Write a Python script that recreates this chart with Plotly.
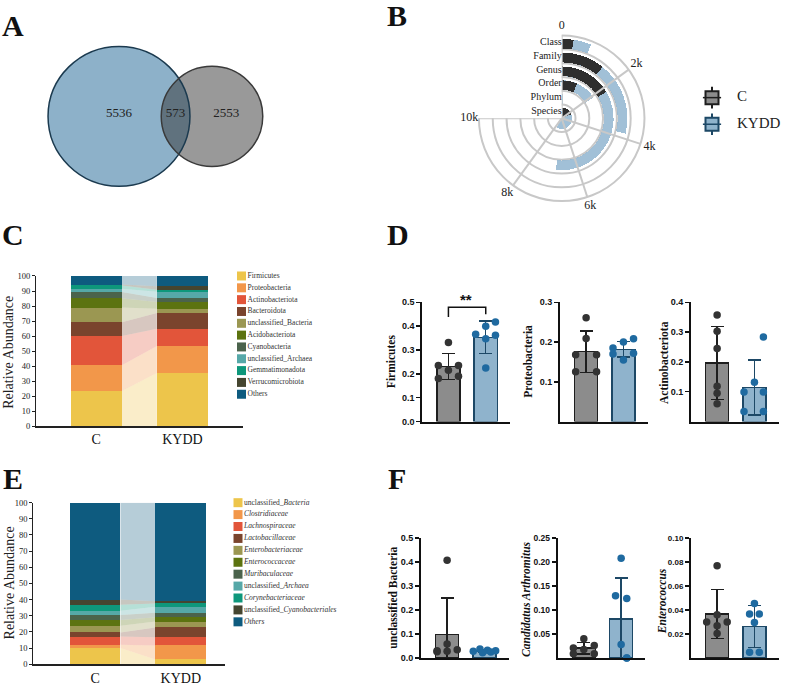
import numpy as np
import plotly.graph_objects as go

W, H = 789, 686

# ---------------- data ----------------
# Panel A (Venn)
venn_kydd_only = 5536
venn_shared = 573
venn_c_only = 2553

# Panel B (radial bars, inner -> outer ring)
tax_levels = ["Species", "Phylum", "Order", "Genus", "Family", "Class"]
tax_counts_c = [2500, 40, 890, 2200, 1430, 320]
tax_counts_kydd = [7700, 150, 2100, 6900, 3830, 800]
angular_tickvals = [0, 2000, 4000, 6000, 8000, 10000]
angular_ticktext = ["0", "2k", "4k", "6k", "8k", "10k"]
angular_max = 10000

groups = ["C", "KYDD"]

# Panel C (phylum composition, %)
phyla = ["Firmicutes", "Proteobacteria", "Actinobacteriota", "Bacteroidota",
         "unclassified_Bacteria", "Acidobacteriota", "Cyanobacteria",
         "unclassified_Archaea", "Gemmatimonadota", "Verrucomicrobiota", "Others"]
phyla_c = [23.4, 17.1, 19.5, 9.1, 9.9, 6.1, 4.2, 2.2, 2.2, 0.6, 5.7]
phyla_kydd = [35.4, 18.0, 11.4, 10.5, 2.8, 4.6, 2.6, 4.2, 1.3, 2.4, 6.8]

# Panel E (family composition, %)
families = ["unclassified_<i>Bacteria</i>", "<i>Clostridiaceae</i>", "<i>Lachnospiraceae</i>",
            "<i>Lactobacillaceae</i>", "<i>Enterobacteriaceae</i>", "<i>Enterococcaceae</i>",
            "<i>Muribaculaceae</i>", "unclassified_<i>Archaea</i>", "<i>Corynebacteriaceae</i>",
            "unclassified_<i>Cyanobacteriales</i>", "<i>Others</i>"]
family_c = [10.0, 2.0, 5.1, 2.6, 4.1, 3.6, 3.1, 2.6, 3.7, 3.2, 60.0]
family_kydd = [3.0, 8.6, 5.1, 6.1, 3.6, 2.7, 2.8, 3.7, 2.0, 1.4, 61.0]

composition_ticks = list(range(0, 101, 10))

# Panel D (per-sample relative abundance)
firmicutes_c = [0.331, 0.235, 0.235, 0.215, 0.180, 0.190]
firmicutes_kydd = [0.417, 0.400, 0.366, 0.362, 0.347, 0.225]
proteobacteria_c = [0.261, 0.209, 0.168, 0.168, 0.125, 0.125]
proteobacteria_kydd = [0.208, 0.200, 0.185, 0.172, 0.170, 0.155]
actinobacteriota_c = [0.357, 0.303, 0.245, 0.118, 0.095, 0.060]
actinobacteriota_kydd = [0.284, 0.1315, 0.099, 0.099, 0.034, 0.034]

# Panel F
uncl_bacteria_c = [0.408, 0.058, 0.035, 0.030, 0.028, 0.026]
uncl_bacteria_kydd = [0.038, 0.032, 0.030, 0.028, 0.025, 0.022]
arthromitus_c = [0.040, 0.026, 0.0207, 0.018, 0.009, 0.009]
arthromitus_kydd = [0.208, 0.130, 0.124, 0.028, 0.0, 0.0]
enterococcus_c = [0.077, 0.036, 0.030, 0.030, 0.027, 0.0205]
enterococcus_kydd = [0.0455, 0.0367, 0.0367, 0.0296, 0.0049, 0.0049]

# ---------------- styles ----------------
palette = ["#EDC54B", "#F2974A", "#E2553A", "#7A442D", "#9B9752", "#5C7310",
           "#4B634C", "#56A8A8", "#0E977B", "#454530", "#0E5B7F"]
gray_fill, gray_line, gray_dot = "#8c8c8c", "#1e1e1e", "#333333"
blue_fill, blue_line, blue_dot = "#8fb3cc", "#1d4866", "#1f6aa0"
grid_gray = "#c8c8c8"
SERIF = "Liberation Serif"
SANS = "Liberation Sans"

fig = go.Figure()
layout = dict(width=W, height=H, margin=dict(l=0, r=0, t=0, b=0),
              paper_bgcolor="white", plot_bgcolor="rgba(0,0,0,0)",
              showlegend=False, barmode="stack",
              font=dict(family=SERIF, color="#222"))
shapes, annotations = [], []


def dom_x(a, b):
    return [a / W, b / W]


def dom_y(top, bottom):
    return [1 - bottom / H, 1 - top / H]


def set_axes(n, xd, yd, xr, yr, xextra=None, yextra=None):
    base = dict(showgrid=False, zeroline=False, showticklabels=False, ticks="",
                showline=False, fixedrange=True)
    xa = dict(base, domain=xd, range=xr, anchor="y%d" % n if n > 1 else "y")
    ya = dict(base, domain=yd, range=yr, anchor="x%d" % n if n > 1 else "x")
    if xextra:
        xa.update(xextra)
    if yextra:
        ya.update(yextra)
    key = "" if n == 1 else str(n)
    layout["xaxis" + key] = xa
    layout["yaxis" + key] = ya
    return ("x" if n == 1 else "x%d" % n), ("y" if n == 1 else "y%d" % n)


def rgba(hexc, a):
    h = hexc.lstrip("#")
    return "rgba(%d,%d,%d,%.2f)" % (int(h[0:2], 16), int(h[2:4], 16), int(h[4:6], 16), a)


def paper_text(text, px, py, size, family=SERIF, angle=0, color="#222"):
    annotations.append(dict(text=text, x=px / W, y=1 - py / H, xref="paper", yref="paper",
                            xanchor="center", yanchor="middle", textangle=angle,
                            showarrow=False, font=dict(size=size, family=family, color=color)))


# ---------------- Panel A: Venn ----------------
xa, ya = set_axes(1, dom_x(0, 300), dom_y(20, 200), [0, 300], [-87, 93])
venn_scale = 0.908
r_k = venn_scale * np.sqrt(venn_kydd_only + venn_shared)
r_c = venn_scale * np.sqrt(venn_c_only + venn_shared)
cx_k = 119
cx_c = cx_k + 93
shapes += [
    dict(type="circle", xref=xa, yref=ya, x0=cx_k - r_k, x1=cx_k + r_k, y0=-r_k, y1=r_k,
         fillcolor="#8db1c9", line=dict(width=0), layer="below"),
    dict(type="circle", xref=xa, yref=ya, x0=cx_c - r_c, x1=cx_c + r_c, y0=-r_c, y1=r_c,
         fillcolor="rgba(51,51,51,0.5)", line=dict(width=0), layer="below"),
    dict(type="circle", xref=xa, yref=ya, x0=cx_k - r_k, x1=cx_k + r_k, y0=-r_k, y1=r_k,
         fillcolor="rgba(0,0,0,0)", line=dict(width=1.5, color="#1b3a4f"), layer="below"),
    dict(type="circle", xref=xa, yref=ya, x0=cx_c - r_c, x1=cx_c + r_c, y0=-r_c, y1=r_c,
         fillcolor="rgba(0,0,0,0)", line=dict(width=1.5, color="#3a3a3a"), layer="below"),
]
fig.add_trace(go.Scatter(
    x=[cx_k, (cx_c - r_c + cx_k + r_k) / 2, (cx_k + r_k + cx_c + r_c) / 2], y=[3, 3, 3],
    mode="text", text=[str(venn_kydd_only), str(venn_shared), str(venn_c_only)],
    textfont=dict(size=13, color="#222", family=SERIF), xaxis=xa, yaxis=ya, hoverinfo="skip"))

# ---------------- Panel B: radial bars ----------------
deg = 270.0 / angular_max
n_rings = len(tax_levels)
r_max = n_rings + 1.0          # extra room for angular labels
ring_px = 14.0
R_px = r_max * ring_px
cxp, cyp = 561.7, 115.0
for t in angular_tickvals:
    fig.add_trace(go.Scatterpolar(r=[0, n_rings], theta=[t * deg, t * deg], mode="lines",
                                  line=dict(color=grid_gray, width=2), subplot="polar",
                                  hoverinfo="skip"))
ring_base = [i + 0.06 for i in range(n_rings)]
for vals, col, op in [(tax_counts_kydd, "#8db3cf", 0.82), (tax_counts_c, "#2e2e2e", 1.0)]:
    fig.add_trace(go.Barpolar(
        r=[0.7] * len(vals), base=ring_base,
        theta=[v * deg / 2 for v in vals], width=[v * deg for v in vals],
        marker=dict(color=col, line=dict(width=0)), opacity=op, subplot="polar",
        hoverinfo="skip"))
fig.add_trace(go.Scatterpolar(
    r=[i + 0.5 for i in range(n_rings)], theta=[0] * n_rings,
    mode="text", text=tax_levels, textposition="middle left", cliponaxis=False,
    textfont=dict(size=10, color="#222", family=SERIF), subplot="polar", hoverinfo="skip"))
fig.add_trace(go.Scatterpolar(
    r=[n_rings + 0.7] * len(angular_tickvals), theta=[t * deg for t in angular_tickvals],
    mode="text", text=angular_ticktext, cliponaxis=False,
    textfont=dict(size=12, color="#222", family=SERIF), subplot="polar", hoverinfo="skip"))
layout["polar"] = dict(
    domain=dict(x=dom_x(cxp - R_px, cxp + R_px), y=dom_y(cyp - R_px, cyp + R_px)),
    sector=[180, 450], bgcolor="rgba(0,0,0,0)", hole=0,
    angularaxis=dict(direction="clockwise", rotation=90, thetaunit="degrees", type="linear",
                     showticklabels=False, showline=False, showgrid=False, ticks=""),
    radialaxis=dict(range=[0, r_max], tickmode="array",
                    tickvals=list(range(1, n_rings + 1)),
                    showticklabels=False, ticks="", showline=False,
                    showgrid=True, gridcolor=grid_gray, gridwidth=2))

# legend for B
xb, yb = set_axes(2, dom_x(700, 789), dom_y(80.5, 134.5), [700, 789], [1.5, -0.5])
for i, (g, fc, lc) in enumerate([(groups[0], gray_fill, gray_line), (groups[1], blue_fill, blue_line)]):
    fig.add_trace(go.Scatter(x=[712, 712], y=[i - 0.3, i + 0.3], mode="markers",
                             marker=dict(symbol="line-ns", size=4, line=dict(width=2, color=lc)),
                             xaxis=xb, yaxis=yb, hoverinfo="skip", cliponaxis=False))
    fig.add_trace(go.Scatter(x=[712], y=[i], mode="markers",
                             marker=dict(symbol="square", size=13, color=fc, line=dict(width=2, color=lc)),
                             xaxis=xb, yaxis=yb, hoverinfo="skip", cliponaxis=False))
    fig.add_trace(go.Scatter(x=[712], y=[i], mode="markers",
                             marker=dict(symbol="line-ew", size=13, line=dict(width=1.5, color=lc)),
                             xaxis=xb, yaxis=yb, hoverinfo="skip", cliponaxis=False))
    fig.add_trace(go.Scatter(x=[737], y=[i], mode="text", text=[g], textposition="middle right",
                             textfont=dict(size=15, family=SERIF, color="#222"),
                             xaxis=xb, yaxis=yb, hoverinfo="skip", cliponaxis=False))


# ---------------- Panels C / E: stacked composition ----------------
def composition_panel(n_axes, n_leg, xdom, ydom, xrange, names, vals_c, vals_k,
                      leg_xdom, leg_ydom, leg_sq_x, leg_txt_x):
    xs, ys = set_axes(
        n_axes, dom_x(*xdom), dom_y(*ydom), xrange, [0, 100],
        xextra=dict(showline=True, linecolor="#222", linewidth=1.5, showticklabels=True,
                    tickmode="array", tickvals=[0, 1], ticktext=groups,
                    tickfont=dict(size=14, family=SERIF, color="#111")),
        yextra=dict(showline=True, linecolor="#222", linewidth=1, ticks="outside", ticklen=3,
                    tickwidth=1, tickcolor="#222", showticklabels=True, tickmode="array",
                    tickvals=composition_ticks, tickfont=dict(size=8.5, family=SERIF, color="#222")))
    bw = 0.593
    cum_c = np.concatenate([[0], np.cumsum(vals_c)])
    cum_k = np.concatenate([[0], np.cumsum(vals_k)])
    for i, nm in enumerate(names):
        fig.add_trace(go.Bar(x=[0, 1], y=[vals_c[i], vals_k[i]], width=bw,
                             marker=dict(color=palette[i], line=dict(width=0)),
                             xaxis=xs, yaxis=ys, hoverinfo="skip"))
        fig.add_trace(go.Scatter(
            x=[bw / 2, 1 - bw / 2, 1 - bw / 2, bw / 2, bw / 2],
            y=[cum_c[i], cum_k[i], cum_k[i + 1], cum_c[i + 1], cum_c[i]],
            mode="lines", fill="toself", fillcolor=rgba(palette[i], 0.3),
            line=dict(width=0), xaxis=xs, yaxis=ys, hoverinfo="skip"))
    # legend
    xl, yl = set_axes(n_leg, dom_x(*leg_xdom), dom_y(*leg_ydom), list(leg_xdom),
                      [len(names) - 0.5, -0.5])
    idx = list(range(len(names)))
    fig.add_trace(go.Scatter(x=[leg_sq_x] * len(names), y=idx, mode="markers",
                             marker=dict(symbol="square", size=9, color=palette[:len(names)],
                                         line=dict(width=0)),
                             xaxis=xl, yaxis=yl, hoverinfo="skip", cliponaxis=False))
    fig.add_trace(go.Scatter(x=[leg_txt_x] * len(names), y=idx, mode="text", text=names,
                             textposition="middle right",
                             textfont=dict(size=7.5, family=SERIF, color="#333"),
                             xaxis=xl, yaxis=yl, hoverinfo="skip", cliponaxis=False))


composition_panel(3, 4, (36, 242.7), (275, 427.3), [-0.70, 1.70], phyla, phyla_c, phyla_kydd,
                  (230, 400), (269, 401), 241.5, 247.5)
composition_panel(5, 6, (33.3, 225), (505, 669), [-0.72, 1.515], families, family_c, family_kydd,
                  (230, 400), (499, 632), 238, 244)

paper_text("Relative Abundance", 9, 353, 14, angle=-90)
paper_text("Relative Abundance", 9, 587, 14, angle=-90)

# ---------------- Panels D / F: bar + dot plots ----------------
dot_offsets = {
    "firm_c": [0, -0.27, 0.27, 0, -0.27, 0.27],
    "firm_k": [0.26, 0, -0.27, 0.26, 0, 0],
    "prot_c": [0, 0, -0.28, 0.28, -0.28, 0.28],
    "prot_k": [0.27, 0, -0.28, 0.27, -0.28, 0],
    "acti_c": [0, 0, 0, 0, 0, 0],
    "acti_k": [0.24, 0, -0.28, 0.24, -0.28, 0.24],
    "uncl_c": [0, 0, 0.27, -0.27, 0, -0.27],
    "uncl_k": [-0.12, 0.08, 0.3, -0.3, 0.17, -0.05],
    "arth_c": [0, 0.28, -0.28, 0, -0.28, 0.28],
    "arth_k": [0, -0.15, 0.15, 0, 0.15, 0.15],
    "ente_c": [0, 0, -0.28, 0.27, 0, 0],
    "ente_k": [0, -0.13, 0.13, 0, -0.13, 0.13],
}

bar_panels = [
    # n, title, c, k, offsets, x-left px, top px, bottom px, ymax, tickvals, tickfmt,
    # title x/y px, tick font size
    (7, "<b>Firmicutes</b>", firmicutes_c, firmicutes_kydd, "firm", 422.3, 301.7, 422.7, 0.5,
     [0, 0.1, 0.2, 0.3, 0.4, 0.5], "%.1f", 391.7, 361.7, 9),
    (8, "<b>Proteobacteria</b>", proteobacteria_c, proteobacteria_kydd, "prot", 560, 301.7, 422.7, 0.3,
     [0.1, 0.2, 0.3], "%.1f", 528.3, 361.7, 9),
    (9, "<b>Actinobacteriota</b>", actinobacteriota_c, actinobacteriota_kydd, "acti", 691, 301.7, 422.7, 0.4,
     [0.1, 0.2, 0.3, 0.4], "%.1f", 663.3, 363, 9),
    (10, "<b>unclassified Bacteria</b>", uncl_bacteria_c, uncl_bacteria_kydd, "uncl", 421, 541, 662.7, 0.5,
     [0, 0.1, 0.2, 0.3, 0.4, 0.5], "%.1f", 392.7, 601.7, 9),
    (11, "<b><i>Candidatus Arthromitus</i></b>", arthromitus_c, arthromitus_kydd, "arth", 557.7, 541, 662.7, 0.25,
     [0.05, 0.10, 0.15, 0.20, 0.25], "%.2f", 526.7, 603, 8.5),
    (12, "<b><i>Enterococcus</i></b>", enterococcus_c, enterococcus_kydd, "ente", 691, 541, 662.7, 0.10,
     [0.02, 0.04, 0.06, 0.08, 0.10], "%.2f", 662, 605, 8),
]

for (n, title, vc, vk, key, xl, top, bot, ymax, tv, fmt, tx, ty, tfs) in bar_panels:
    xs, ys = set_axes(
        n, dom_x(xl, xl + 87.7), dom_y(top, bot), [-0.7, 1.65], [0, ymax],
        xextra=dict(showline=True, linecolor="#111", linewidth=2),
        yextra=dict(showline=True, linecolor="#111", linewidth=2, ticks="outside", ticklen=4,
                    tickwidth=1.5, tickcolor="#111", showticklabels=True, tickmode="array",
                    tickvals=tv, ticktext=[fmt % t for t in tv],
                    tickfont=dict(size=tfs, family=SANS, color="#111", weight="bold")))
    for xi, vals, fc, lc, dc, sfx in [(0, vc, gray_fill, gray_line, gray_dot, "_c"),
                                      (1, vk, blue_fill, blue_line, blue_dot, "_k")]:
        arr = np.array(vals)
        m = float(arr.mean())
        sd = float(arr.std(ddof=1))
        fig.add_trace(go.Bar(x=[xi], y=[m], width=0.617,
                             marker=dict(color=fc, line=dict(color=lc, width=1.5)),
                             error_y=dict(type="data", array=[sd], color=lc, thickness=1.5, width=6.5),
                             xaxis=xs, yaxis=ys, hoverinfo="skip"))
        fig.add_trace(go.Scatter(x=[xi + o for o in dot_offsets[key + sfx]], y=vals, mode="markers",
                                 marker=dict(size=7.5, color=dc, line=dict(width=0)),
                                 xaxis=xs, yaxis=ys, hoverinfo="skip", cliponaxis=False))
    paper_text(title, tx, ty, 11.5, angle=-90, color="#111")

# significance bracket in D (Firmicutes)
fig.add_trace(go.Scatter(x=[0, 0, 1, 1], y=[0.438, 0.479, 0.479, 0.45], mode="lines",
                         line=dict(color="#111", width=1.5), xaxis="x7", yaxis="y7", hoverinfo="skip"))
paper_text("<b>**</b>", 466, 299, 15, family=SANS, color="#111")

# ---------------- panel letters ----------------
for lab, px, py in [("A", 13, 25), ("B", 397, 14.5), ("C", 12.5, 237), ("D", 397.5, 237),
                    ("E", 12.5, 485), ("F", 397, 485)]:
    paper_text("<b>%s</b>" % lab, px, py - 4, 30, color="#111")

layout["shapes"] = shapes
layout["annotations"] = annotations
fig.update_layout(**layout)
fig.write_html("out.html", config={"displayModeBar": False, "staticPlot": True},
               post_script="document.body.style.margin='0px';")
